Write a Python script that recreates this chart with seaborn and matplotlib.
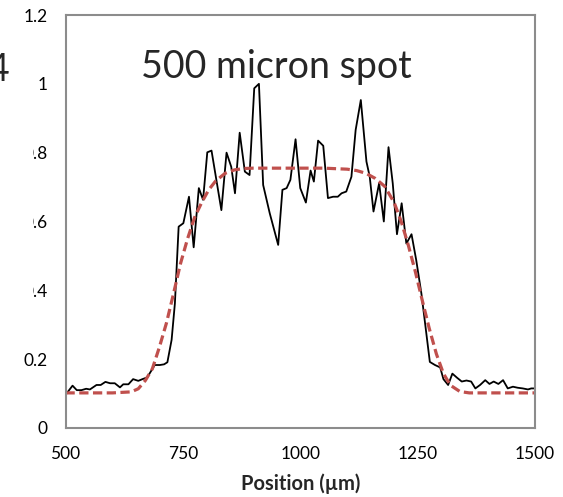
import matplotlib
matplotlib.use("Agg")
import matplotlib.pyplot as plt
import seaborn as sns
from matplotlib.patches import Rectangle

# measured profile
pos = [501, 515, 524, 534, 544, 552, 566, 575, 585, 595, 605, 616, 623, 634, 644, 655, 664, 674,
       683, 690, 701, 710, 717, 726, 733, 741, 751, 763, 773, 784, 793, 802, 811, 832, 843, 853,
       861, 871, 882, 892, 902, 912, 921, 935, 953, 962, 971, 979, 990, 1000, 1012, 1022, 1029,
       1038, 1049, 1059, 1070, 1080, 1088, 1098, 1109, 1118, 1129, 1141, 1148, 1156, 1168, 1178,
       1188, 1197, 1206, 1216, 1226, 1237, 1247, 1258, 1265, 1276, 1287, 1298, 1305, 1315, 1324,
       1334, 1344, 1354, 1364, 1373, 1383, 1394, 1403, 1412, 1422, 1432, 1442, 1453, 1463, 1474,
       1485, 1492, 1500]
signal = [0.098, 0.123, 0.110, 0.110, 0.114, 0.112, 0.125, 0.125, 0.134, 0.130, 0.130, 0.118, 0.127,
          0.127, 0.142, 0.137, 0.142, 0.147, 0.167, 0.183, 0.183, 0.185, 0.191, 0.256, 0.362, 0.585,
          0.595, 0.672, 0.525, 0.697, 0.663, 0.801, 0.806, 0.633, 0.800, 0.759, 0.682, 0.858, 0.745,
          0.735, 0.987, 1.000, 0.706, 0.624, 0.532, 0.692, 0.697, 0.721, 0.839, 0.697, 0.655, 0.748,
          0.716, 0.835, 0.820, 0.668, 0.672, 0.672, 0.682, 0.687, 0.730, 0.866, 0.953, 0.774, 0.730,
          0.629, 0.711, 0.600, 0.816, 0.711, 0.563, 0.653, 0.536, 0.563, 0.488, 0.391, 0.314, 0.192,
          0.183, 0.176, 0.142, 0.125, 0.158, 0.146, 0.135, 0.138, 0.135, 0.115, 0.125, 0.139, 0.128,
          0.135, 0.128, 0.139, 0.115, 0.120, 0.117, 0.115, 0.112, 0.115, 0.115]

# fitted flat-top curve
fit_pos = [500, 550, 600, 640, 655, 670, 685, 700, 715, 730, 745, 760, 775, 790, 805, 820, 840, 860,
           880, 900, 950, 1000, 1050, 1100, 1120, 1140, 1160, 1180, 1200, 1215, 1230, 1245, 1260,
           1275, 1290, 1305, 1320, 1340, 1360, 1400, 1450, 1500]
fit_val = [0.102, 0.102, 0.102, 0.105, 0.114, 0.138, 0.172, 0.235, 0.305, 0.390, 0.478, 0.550, 0.612,
           0.655, 0.692, 0.718, 0.740, 0.750, 0.754, 0.755, 0.755, 0.755, 0.755, 0.752, 0.748, 0.740,
           0.725, 0.702, 0.655, 0.600, 0.532, 0.455, 0.370, 0.288, 0.215, 0.158, 0.124, 0.106, 0.102,
           0.102, 0.102, 0.102]

x_ticks = [500, 750, 1000, 1250, 1500]
y_ticks = [0, 0.2, 0.4, 0.6, 0.8, 1, 1.2]
y_tick_labels = ["0", "0.2", "0.4", "0.6", "0.8", "1", "1.2"]
title = "500 micron spot"
x_label = "Position (\u00b5m)"

sns.set_style("white")
plt.rcParams['font.family'] = ['Lato', 'DejaVu Sans']

fig = plt.figure(figsize=(5.63, 4.97), dpi=100)
ax = fig.add_axes([65.5 / 563, 1 - 428 / 497, (535 - 65.5) / 563, (428 - 15) / 497])

sns.lineplot(x=pos, y=signal, ax=ax, color='black', linewidth=1.3, sort=False, estimator=None)
sns.lineplot(x=fit_pos, y=fit_val, ax=ax, color='#C0504D', linewidth=2.3, sort=False,
             estimator=None, dashes=False, linestyle=(0, (2.9, 1.4)))

ax.set_xlim(500, 1500)
ax.set_ylim(0, 1.2)
ax.set_xticks(x_ticks)
ax.set_xticklabels([str(t) for t in x_ticks])
ax.set_yticks(y_ticks)
ax.set_yticklabels(y_tick_labels)

gray = '#8c8c8c'
for s in ax.spines.values():
    s.set_color(gray)
    s.set_linewidth(1.5)
ax.tick_params(axis='both', direction='out', length=4.5, width=1.5, color=gray,
               labelsize=12.5, labelcolor='black')
ax.tick_params(axis='y', pad=8.5)
ax.tick_params(axis='x', pad=8.5)
ax.set_xlabel(x_label, fontsize=14.5, fontweight='bold', labelpad=8)
ax.set_ylabel("")

ax.text(0.45, 0.875, title, transform=ax.transAxes, ha='center', va='center', fontsize=27)

# neighbouring-panel overlap on the left edge
cover = Rectangle((0, 1 - 330 / 497), 33 / 563, (330 - 35) / 497,
                  transform=fig.transFigure, facecolor='white', edgecolor='none', zorder=10)
fig.add_artist(cover)
fig.text(9 / 563, 1 - 70 / 497, "4", ha='right', va='center', fontsize=27, zorder=11)

fig.savefig("out.png", dpi=100, facecolor='white')
